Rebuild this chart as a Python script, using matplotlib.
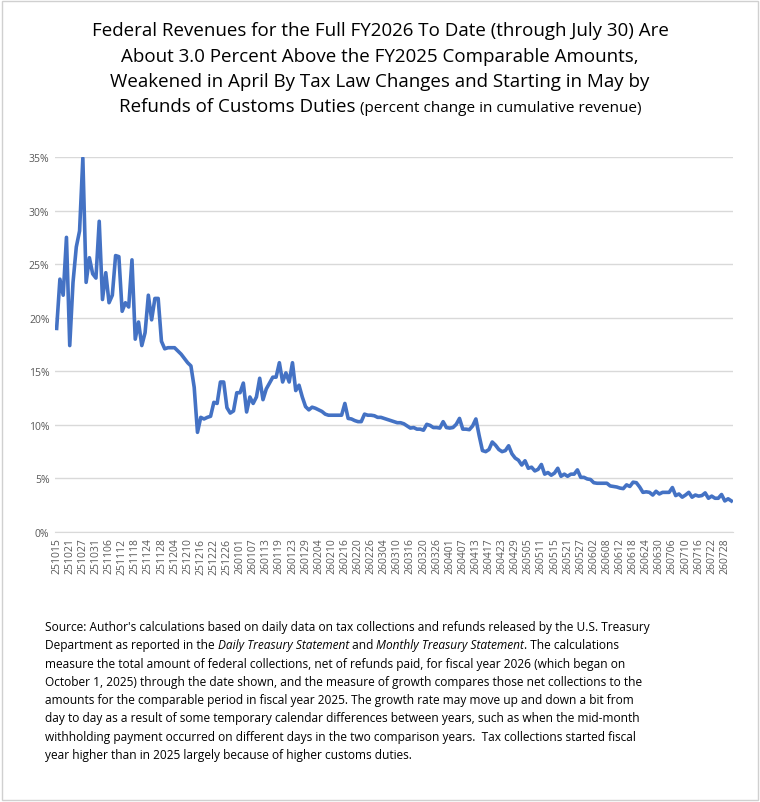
import matplotlib
matplotlib.use("Agg")
import matplotlib.pyplot as plt
from matplotlib.patches import Rectangle

FONT = ["Open Sans", "DejaVu Sans"]
plt.rcParams["font.family"] = FONT

tick_labels = ["251015", "251021", "251027", "251031", "251106", "251112", "251118", "251124",
               "251128", "251204", "251210", "251216", "251222", "251226", "260101", "260107",
               "260113", "260119", "260123", "260129", "260204", "260210", "260216", "260220",
               "260226", "260304", "260310", "260316", "260320", "260326", "260401", "260407",
               "260413", "260417", "260423", "260429", "260505", "260511", "260515", "260521",
               "260527", "260602", "260608", "260612", "260618", "260624", "260630", "260706",
               "260710", "260716", "260722", "260728"]

# percent change in cumulative revenue, one value per business day
growth = [
    19.0, 23.6, 22.1, 27.5, 17.4, 23.3, 26.6, 28.1, 34.9, 23.3,
    25.6, 24.1, 23.7, 29.0, 21.7, 24.2, 21.4, 22.1, 25.8, 25.7,
    20.6, 21.4, 21.0, 25.4, 18.0, 19.6, 17.4, 18.6, 22.1, 19.8,
    21.8, 21.8, 17.8, 17.1, 17.2, 17.2, 17.2, 16.9, 16.6, 16.2,
    15.8, 15.5, 13.5, 9.3, 10.7, 10.55, 10.7, 10.8, 12.1, 12.0,
    14.0, 14.0, 11.6, 11.1, 11.3, 13.0, 13.0, 13.9, 11.2, 12.6,
    12.0, 12.6, 14.35, 12.35, 13.35, 13.9, 14.45, 14.45, 15.8, 14.0,
    14.85, 14.0, 15.8, 13.2, 13.7, 12.6, 11.7, 11.4, 11.65, 11.55,
    11.4, 11.25, 11.0, 10.9, 10.9, 10.9, 10.9, 10.9, 12.0, 10.6,
    10.55, 10.4, 10.3, 10.3, 11.0, 10.9, 10.9, 10.85, 10.7, 10.7,
    10.6, 10.5, 10.4, 10.3, 10.2, 10.2, 10.1, 9.9, 9.7, 9.75,
    9.6, 9.6, 9.5, 10.05, 9.95, 9.75, 9.75, 9.7, 10.3, 9.75,
    9.7, 9.75, 10.05, 10.6, 9.6, 9.6, 9.55, 9.9, 10.55, 9.0,
    7.6, 7.5, 7.7, 8.4, 8.1, 7.7, 7.5, 7.6, 8.05, 7.3,
    6.9, 6.7, 6.25, 6.65, 5.95, 6.05, 5.7, 5.85, 6.3, 5.4,
    5.55, 5.3, 5.5, 5.95, 5.2, 5.4, 5.2, 5.4, 5.4, 5.8,
    5.1, 5.1, 4.95, 4.9, 4.6, 4.55, 4.55, 4.55, 4.55, 4.3,
    4.25, 4.2, 4.1, 4.05, 4.4, 4.25, 4.65, 4.6, 4.2, 3.7,
    3.75, 3.7, 3.45, 3.8, 3.55, 3.7, 3.7, 3.7, 4.15, 3.4,
    3.55, 3.25, 3.45, 3.7, 3.25, 3.45, 3.35, 3.4, 3.65, 3.15,
    3.35, 3.15, 3.15, 3.5, 2.9, 3.1, 2.9,
]

title_lines = [
    [("Federal Revenues for the Full FY2026 To Date (through July 30) Are", 13.5)],
    [("About 3.0 Percent Above the FY2025 Comparable Amounts,", 13.5)],
    [("Weakened in April By Tax Law Changes and Starting in May by", 13.5)],
    [("Refunds of Customs Duties ", 13.5), ("(percent change in cumulative revenue)", 11)],
]

source_lines = [
    [("Source: Author's calculations based on daily data on tax collections and refunds released by the U.S. Treasury", "normal")],
    [("Department as reported in the ", "normal"), ("Daily Treasury Statement", "italic"), (" and ", "normal"),
     ("Monthly Treasury Statement", "italic"), (". The calculations", "normal")],
    [("measure the total amount of federal collections, net of refunds paid, for fiscal year 2026 (which began on", "normal")],
    [("October 1, 2025) through the date shown, and the measure of growth compares those net collections to the", "normal")],
    [("amounts for the comparable period in fiscal year 2025. The growth rate may move up and down a bit from", "normal")],
    [("day to day as a result of some temporary calendar differences between years, such as when the mid-month", "normal")],
    [("withholding payment occurred on different days in the two comparison years.  Tax collections started fiscal", "normal")],
    [("year higher than in 2025 largely because of higher customs duties.", "normal")],
]

W, H = 760, 803
fig = plt.figure(figsize=(W / 100, H / 100), dpi=100)
fig.patches.append(Rectangle((0.002, 0.002), 0.996, 0.996, transform=fig.transFigure,
                             fill=False, edgecolor="#d0d0d0", linewidth=1))

ax = fig.add_axes([55 / W, 1 - 533 / H, (733 - 55) / W, (533 - 158) / H])
x = list(range(len(growth)))
ax.plot(x, growth, color="#4472C4", linewidth=2.6, solid_joinstyle="round")
ax.set_ylim(0, 35)
ax.set_xlim(-0.5, len(growth) - 1 + 0.5)
ax.set_yticks(range(0, 36, 5))
ax.set_yticklabels([f"{v}%" for v in range(0, 36, 5)], fontsize=7.5, color="#595959")
ax.set_xticks(range(0, 4 * len(tick_labels), 4))
ax.set_xticklabels(tick_labels, rotation=90, fontsize=7.5, color="#595959")
ax.tick_params(length=0, pad=4)
ax.grid(axis="y", color="#d9d9d9", linewidth=1)
ax.set_axisbelow(True)
for s in ["top", "right", "left"]:
    ax.spines[s].set_visible(False)
ax.spines["bottom"].set_color("#d9d9d9")

fig.canvas.draw()
renderer = fig.canvas.get_renderer()


def draw_line(pieces, x0, y_px, center=False):
    # pieces drawn one after another, positions in pixels from the top-left
    texts = []
    pos = x0
    for txt, size, style in pieces:
        t = fig.text(pos / W, 1 - y_px / H, txt, fontsize=size, style=style,
                     va="baseline", ha="left", color="black")
        pos += t.get_window_extent(renderer).width
        texts.append(t)
    if center:
        shift = (W - (pos - x0)) / 2 - x0
        for t in texts:
            px, py = t.get_position()
            t.set_position((px + shift / W, py))


for i, line in enumerate(title_lines):
    draw_line([(txt, sz, "normal") for txt, sz in line], 0, 36 + i * 25.5, center=True)

for i, line in enumerate(source_lines):
    draw_line([(txt, 8.6, st) for txt, st in line], 45, 631 + i * 18.3)

fig.savefig("out.png", dpi=100)
